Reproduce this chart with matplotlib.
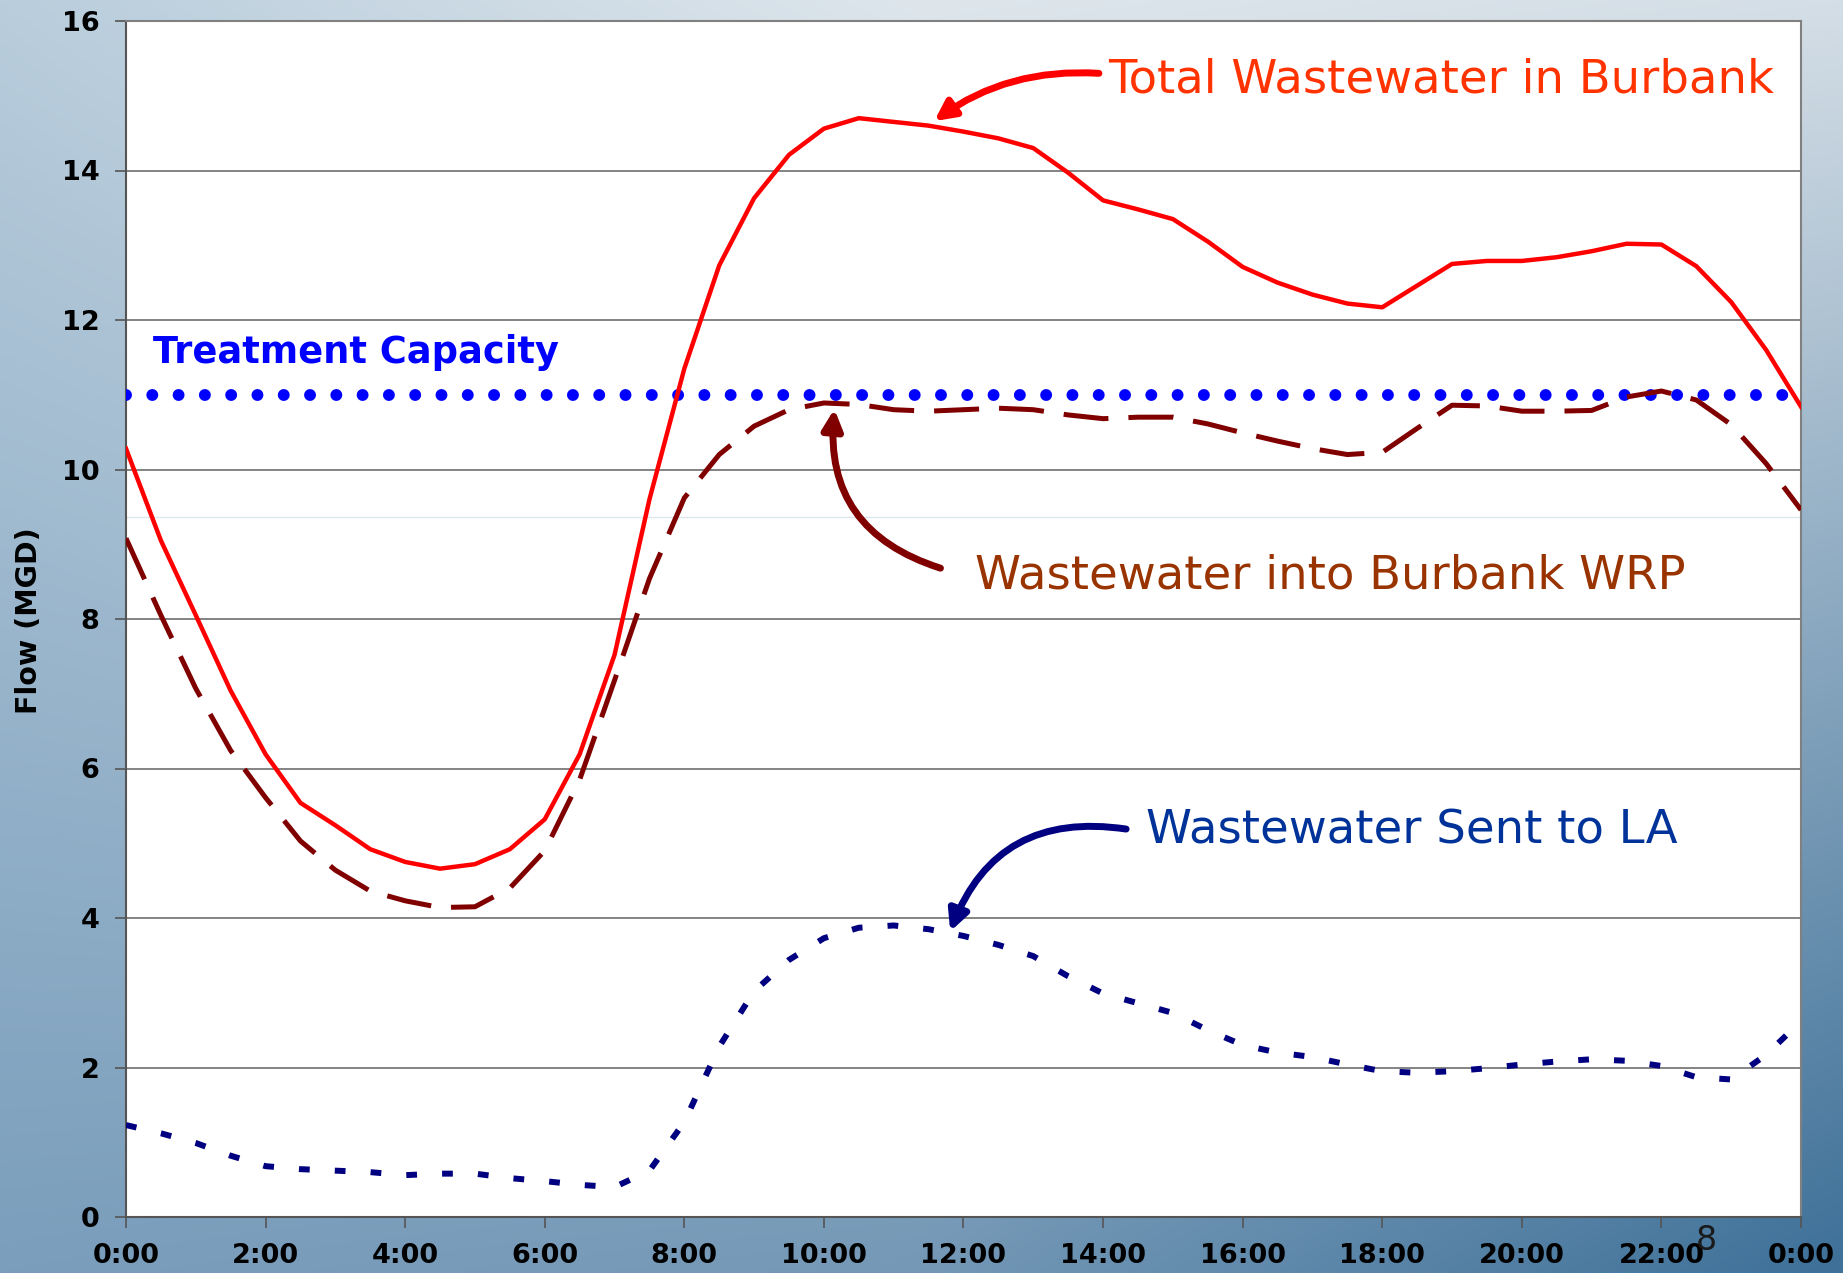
import numpy as np
import matplotlib
matplotlib.use("Agg")
import matplotlib.pyplot as plt

# half-hour readings, 0:00 .. 24:00
hours = np.arange(0, 24.5, 0.5)

total_burbank = [10.28, 9.05, 8.05, 7.04, 6.19, 5.54, 5.24, 4.92, 4.75, 4.66,
                 4.72, 4.92, 5.32, 6.19, 7.52, 9.6, 11.35, 12.73, 13.63, 14.21,
                 14.56, 14.70, 14.65, 14.6, 14.52, 14.43, 14.3, 13.97, 13.6, 13.48,
                 13.35, 13.05, 12.71, 12.50, 12.34, 12.22, 12.17, 12.46, 12.75, 12.79,
                 12.79, 12.84, 12.92, 13.02, 13.01, 12.72, 12.24, 11.6, 10.84]

into_wrp = [9.08, 8.05, 7.07, 6.24, 5.61, 5.03, 4.64, 4.36, 4.23, 4.14,
            4.15, 4.40, 4.90, 5.85, 7.18, 8.54, 9.62, 10.2, 10.58, 10.8,
            10.89, 10.87, 10.8, 10.78, 10.8, 10.82, 10.8, 10.73, 10.68, 10.70,
            10.70, 10.61, 10.49, 10.38, 10.28, 10.2, 10.23, 10.55, 10.86, 10.85,
            10.78, 10.78, 10.79, 10.97, 11.05, 10.93, 10.6, 10.08, 9.46]

sent_to_la = [1.23, 1.12, 0.99, 0.82, 0.68, 0.64, 0.62, 0.60, 0.56, 0.58,
              0.58, 0.52, 0.48, 0.43, 0.40, 0.62, 1.27, 2.28, 3.02, 3.44,
              3.73, 3.87, 3.90, 3.85, 3.76, 3.64, 3.49, 3.22, 2.99, 2.86,
              2.73, 2.50, 2.30, 2.20, 2.14, 2.04, 1.95, 1.93, 1.95, 1.99,
              2.04, 2.08, 2.11, 2.09, 2.02, 1.87, 1.84, 2.17, 2.62]

capacity = 11.0

xtick_pos = list(range(0, 25, 2))
xtick_labels = ["0:00", "2:00", "4:00", "6:00", "8:00", "10:00", "12:00",
                "14:00", "16:00", "18:00", "20:00", "22:00", "0:00"]
ytick_pos = list(range(0, 17, 2))

W, H = 1843, 1273
fig = plt.figure(figsize=(W / 100, H / 100), dpi=100)

# slide background gradient
bg = fig.add_axes([0, 0, 1, 1], zorder=-10)
bg.axis("off")
ny, nx = 200, 300
s = np.linspace(0, 1, nx)[None, :, None]
t = np.linspace(0, 1, ny)[:, None, None]
tl, tc, tr = np.array([185, 205, 220]), np.array([222, 230, 236]), np.array([212, 222, 230])
bl, bc, br = np.array([122, 158, 188]), np.array([116, 152, 182]), np.array([62, 112, 152])
def row(a, b, c):
    left = a + (b - a) * np.clip(s * 2, 0, 1)
    return np.where(s < 0.5, left, b + (c - b) * np.clip(s * 2 - 1, 0, 1))
img = row(tl, tc, tr) * (1 - t) + row(bl, bc, br) * t
bg.imshow(img / 255.0, aspect="auto", extent=[0, 1, 0, 1], interpolation="bilinear")
bg.set_xlim(0, 1)
bg.set_ylim(0, 1)

ax = fig.add_axes([126 / W, 1 - 1217 / H, (1801 - 126) / W, (1217 - 21) / H])
ax.set_facecolor("white")

for v in ytick_pos[1:-1]:
    ax.axhline(v, color="#7a7a7a", lw=1.3, zorder=1)
ax.axhline(9.37, color="#dbe6ee", lw=1.0, zorder=1)

ax.plot([0, 24], [capacity, capacity], color="#0000ff", lw=8.6,
        linestyle=(0, (0.001, 2.2)), dash_capstyle="round", zorder=3)
ax.plot(hours, sent_to_la, color="#000080", lw=4.3,
        linestyle=(0, (1.8, 4.2)), dash_capstyle="butt", zorder=4)
ax.plot(hours, into_wrp, color="#800000", lw=3.6,
        linestyle=(0, (9, 4)), dash_capstyle="butt", zorder=4)
ax.plot(hours, total_burbank, color="#ff0000", lw=3.2, zorder=5)

ax.set_xlim(0, 24)
ax.set_ylim(0, 16)
ax.set_xticks(xtick_pos)
ax.set_xticklabels(xtick_labels)
ax.set_yticks(ytick_pos)
ax.tick_params(axis="both", direction="out", length=8, width=1.2, color="#555555",
               labelsize=19.5, pad=11)
for lab in ax.get_xticklabels() + ax.get_yticklabels():
    lab.set_fontweight("bold")
for side in ["left", "bottom"]:
    ax.spines[side].set_color("#555555")
    ax.spines[side].set_linewidth(1.5)
for side in ["top", "right"]:
    ax.spines[side].set_color("#808080")
    ax.spines[side].set_linewidth(1.5)

fig.text(29 / W, 1 - 621 / H, "Flow (MGD)", rotation=90, ha="center", va="center",
         fontsize=20.5, fontweight="bold", color="black")

ax.text(0.39, 11.42, "Treatment Capacity", color="#0000ff", fontsize=26.5,
        fontweight="bold", ha="left", va="baseline", zorder=6)

ax.text(14.07, 15.05, "Total Wastewater in Burbank", color="#ff3300",
        fontsize=33.5, ha="left", va="baseline", zorder=6)
ax.annotate("", xy=(11.58, 14.66), xytext=(13.94, 15.30),
            arrowprops=dict(arrowstyle="-|>", color="#ff0000", lw=5,
                            mutation_scale=30, shrinkA=0, shrinkB=0,
                            connectionstyle="arc3,rad=0.18"), zorder=6)

ax.text(12.17, 8.41, "Wastewater into Burbank WRP", color="#993300",
        fontsize=33.5, ha="left", va="baseline", zorder=6)
ax.annotate("", xy=(10.15, 10.81), xytext=(11.67, 8.68),
            arrowprops=dict(arrowstyle="-|>", color="#800000", lw=5,
                            mutation_scale=30, shrinkA=0, shrinkB=0,
                            connectionstyle="arc3,rad=-0.4"), zorder=6)

ax.text(14.61, 5.0, "Wastewater Sent to LA", color="#003399",
        fontsize=33.5, ha="left", va="baseline", zorder=6)
ax.annotate("", xy=(11.81, 3.82), xytext=(14.33, 5.19),
            arrowprops=dict(arrowstyle="-|>", color="#000080", lw=5,
                            mutation_scale=30, shrinkA=0, shrinkB=0,
                            connectionstyle="arc3,rad=0.4"), zorder=6)

# slide page number (sits over the 22:00 label in the original)
fig.text(1706 / W, 1 - 1241 / H, "8", fontsize=24, ha="center", va="center",
         color="#1a1a1a")

fig.savefig("out.png", dpi=100)
